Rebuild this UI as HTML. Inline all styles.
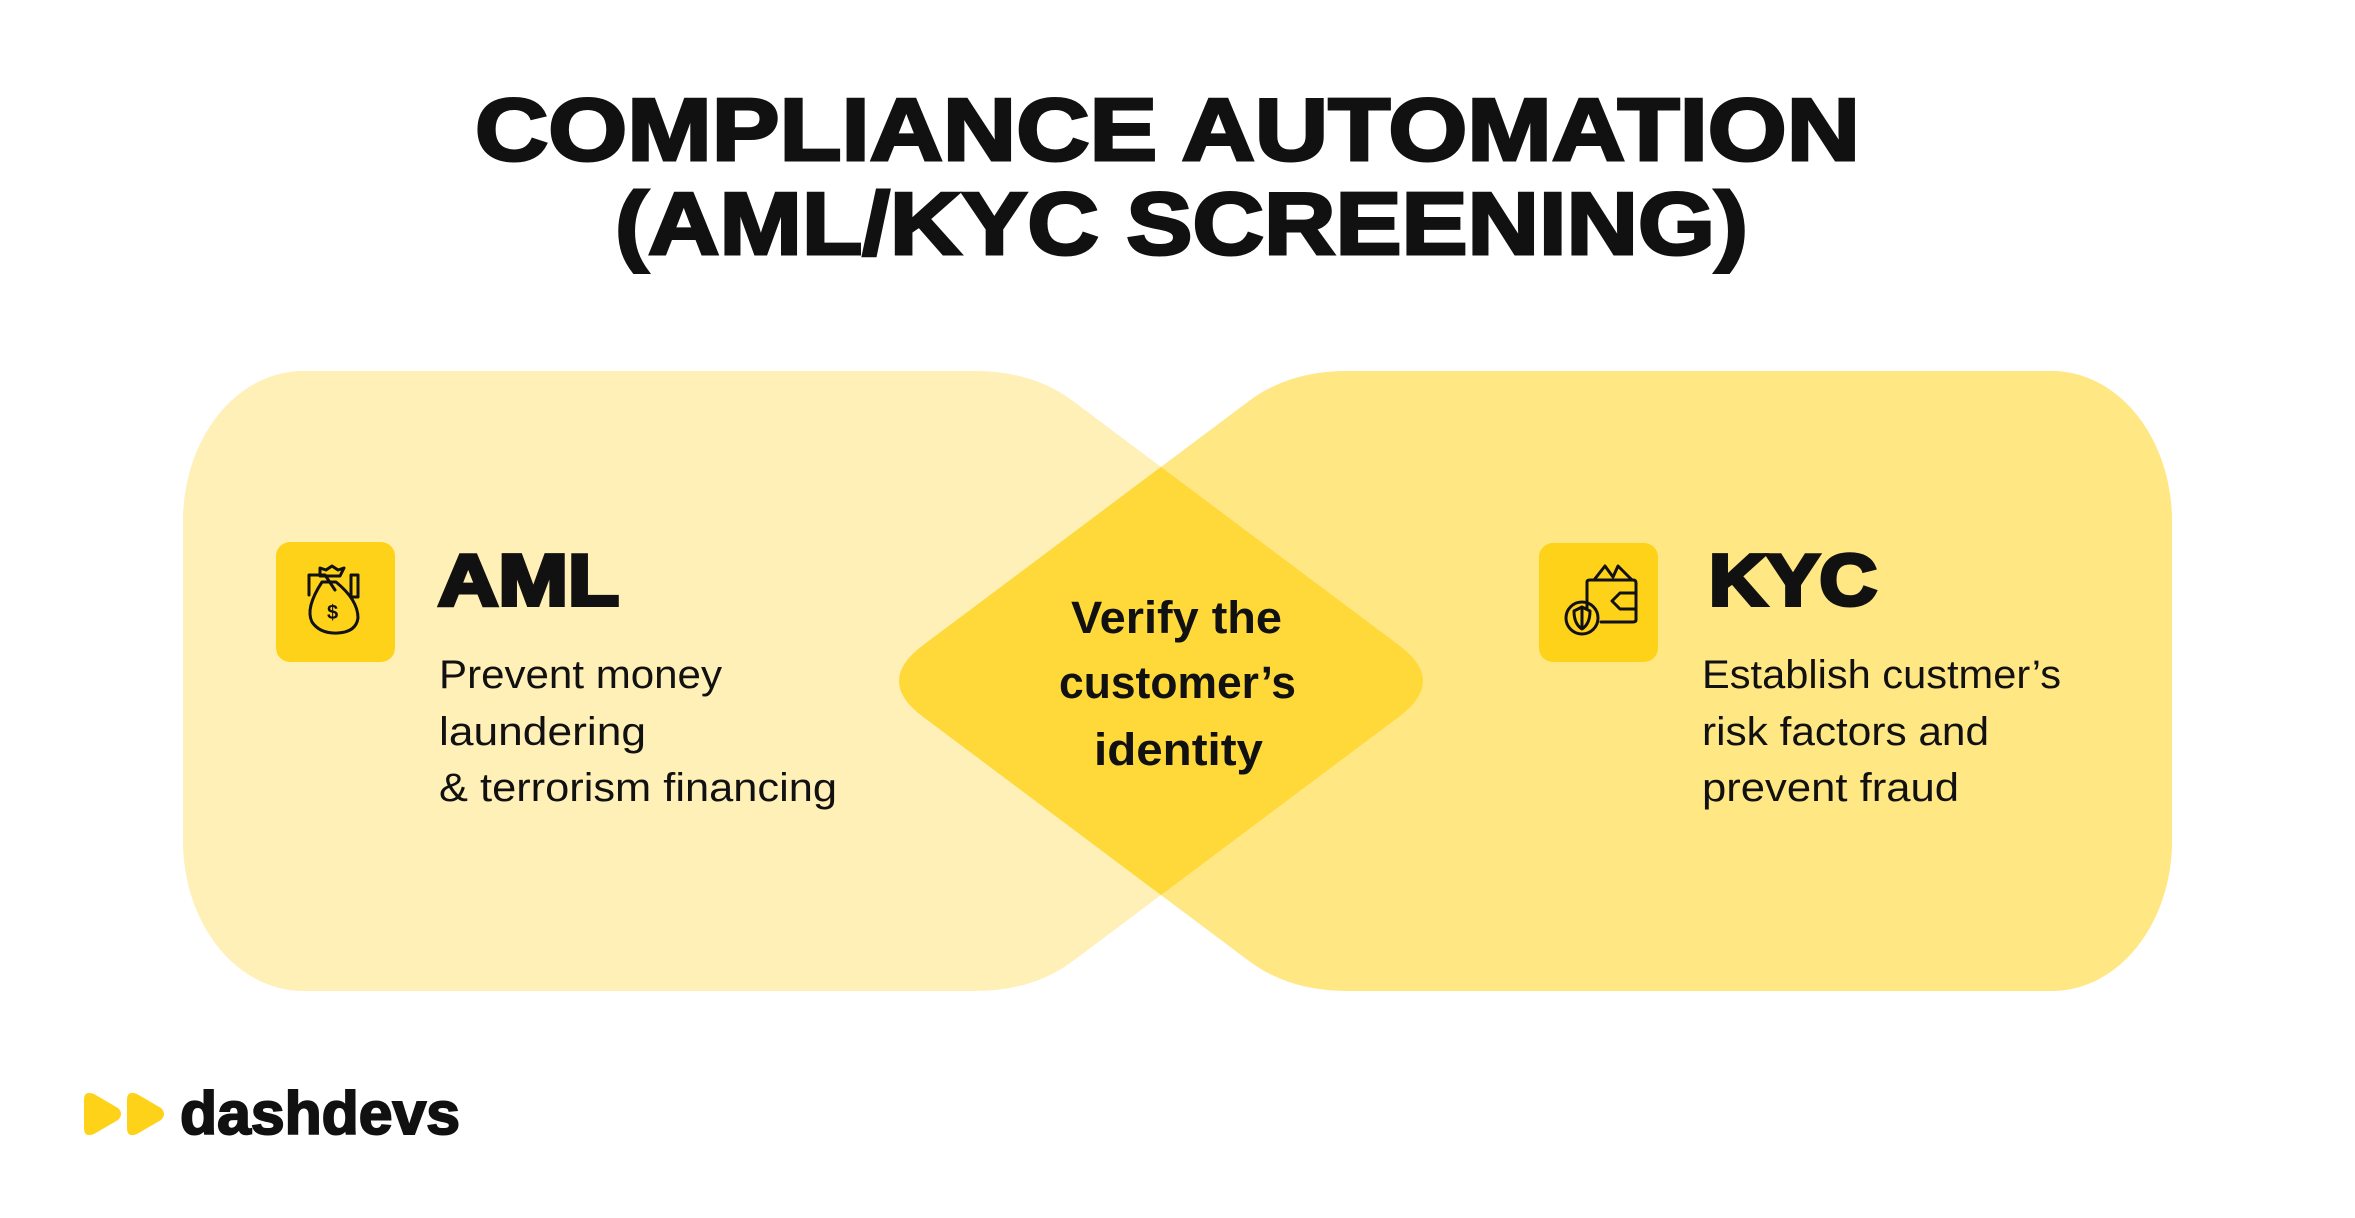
<!DOCTYPE html>
<html><head><meta charset="utf-8"><style>
html,body{margin:0;padding:0;background:#fff;}
svg{display:block;}
</style></head><body>
<svg width="2355" height="1218" viewBox="0 0 2355 1218" xmlns="http://www.w3.org/2000/svg">
<defs>
<path id="lp" d="M 303 371 L 975 371 Q 1033 371 1073 401 L 1400 646 Q 1446 681 1400 716 L 1073 961 Q 1033 991 975 991 L 303 991 A 120 150 0 0 1 183 841 L 183 521 A 120 150 0 0 1 303 371 Z"/>
<path id="rp" d="M 1347 371 L 2052 371 A 120 150 0 0 1 2172 521 L 2172 841 A 120 150 0 0 1 2052 991 L 1347 991 Q 1289 991 1249 961 L 922 716 Q 876 681 922 646 L 1249 401 Q 1289 371 1347 371 Z"/>
<clipPath id="lc"><use href="#lp"/></clipPath>
</defs>
<rect width="2355" height="1218" fill="#fff"/>
<g font-family="Liberation Sans, sans-serif" fill="#111">
<text x="475" y="160" font-size="88" font-weight="bold" stroke="#111" stroke-width="3" textLength="1385" lengthAdjust="spacingAndGlyphs">COMPLIANCE AUTOMATION</text>
<text x="615" y="254" font-size="88" font-weight="bold" stroke="#111" stroke-width="3" textLength="1133" lengthAdjust="spacingAndGlyphs">(AML/KYC SCREENING)</text>
</g>
<use href="#lp" fill="#FEF0B6"/>
<use href="#rp" fill="#FFE784"/>
<g clip-path="url(#lc)"><use href="#rp" fill="#FFD939"/></g>

<rect x="276" y="542" width="119" height="120" rx="14" fill="#FFD21A"/>
<rect x="1539" y="543" width="119" height="119" rx="14" fill="#FFD21A"/>
<!-- AML icon -->
<g fill="none" stroke="#111" stroke-width="3" stroke-linecap="round" stroke-linejoin="round">
<path d="M322 582 Q305 608 312 622 Q320 634 338 633 Q356 632 358 618 Q358 600 336 582 Z"/>
<path d="M320 576 L340 576 L344 568 L338 570 L332 566 L326 570 L320 568 Z"/>
<path d="M309 595 L309 575 L325 575 L335 590"/>
<rect x="351" y="575" width="7" height="22"/>
<text x="327" y="619" font-family="Liberation Sans" font-size="20" fill="#111" stroke="none" font-weight="bold">$</text>
</g>
<!-- KYC icon -->
<g fill="none" stroke="#111" stroke-width="3" stroke-linecap="round" stroke-linejoin="round">
<path d="M1594 580 L1605 566 L1613 577 L1618 566 L1632 580"/>
<path d="M1587 608 L1587 582 Q1587 580 1590 580 L1633 580 Q1636 580 1636 583 L1636 620 Q1636 622 1633 622 L1601 622"/>
<path d="M1636 593 L1620 593 L1612 601 L1620 609 L1636 609"/>
<circle cx="1582" cy="618" r="16"/>
<path d="M1582 607 L1590 611 Q1590 624 1582 629 Q1574 624 1574 611 Z"/>
<line x1="1582" y1="608" x2="1582" y2="628"/>
</g>

<g font-family="Liberation Sans, sans-serif" fill="#111">
<text x="438" y="605" font-size="72" font-weight="bold" stroke="#111" stroke-width="4" textLength="181" lengthAdjust="spacingAndGlyphs">AML</text>
<text x="1709" y="605" font-size="72" font-weight="bold" stroke="#111" stroke-width="4" textLength="168" lengthAdjust="spacingAndGlyphs">KYC</text>
<g font-size="40">
<text x="439" y="688" textLength="283" lengthAdjust="spacingAndGlyphs">Prevent money</text>
<text x="439" y="745" textLength="207" lengthAdjust="spacingAndGlyphs">laundering</text>
<text x="439" y="801" textLength="398" lengthAdjust="spacingAndGlyphs">&amp; terrorism financing</text>
<text x="1702" y="688" textLength="359" lengthAdjust="spacingAndGlyphs">Establish custmer’s</text>
<text x="1702" y="745" textLength="287" lengthAdjust="spacingAndGlyphs">risk factors and</text>
<text x="1702" y="801" textLength="257" lengthAdjust="spacingAndGlyphs">prevent fraud</text>
</g>
<g font-size="45" font-weight="bold">
<text x="1071" y="633" textLength="211" lengthAdjust="spacingAndGlyphs">Verify the</text>
<text x="1059" y="698" textLength="237" lengthAdjust="spacingAndGlyphs">customer’s</text>
<text x="1094" y="765" textLength="169" lengthAdjust="spacingAndGlyphs">identity</text>
</g>
</g>

<!-- logo -->
<path d="M84 1100 Q84 1090 94 1094 L118 1108 Q124 1114 118 1120 L94 1134 Q84 1138 84 1128 Z" fill="#FFD21A"/>
<path d="M127 1100 Q127 1090 137 1094 L161 1108 Q167 1114 161 1120 L137 1134 Q127 1138 127 1128 Z" fill="#FFD21A"/>
<text x="180" y="1134" font-family="Liberation Sans, sans-serif" font-size="60" font-weight="bold" fill="#111" stroke="#111" stroke-width="2" textLength="280" lengthAdjust="spacingAndGlyphs">dashdevs</text>
</svg>
</body></html>
